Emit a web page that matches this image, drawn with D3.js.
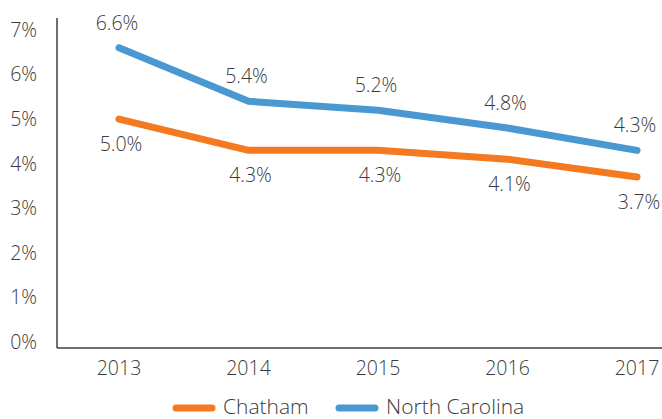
<!DOCTYPE html>
<html>
<head>
<meta charset="utf-8">
<script src="https://cdn.jsdelivr.net/npm/d3@7"></script>
<style>
  html, body { margin: 0; padding: 0; background: #fff; }
  svg text { font-family: "Open Sans", "DejaVu Sans", sans-serif; font-weight: 300; fill: #3a3a3a; }
</style>
</head>
<body>
<svg id="chart" width="662" height="419"></svg>
<script>
// Unemployment rate, 2013–2017
const years = ["2013", "2014", "2015", "2016", "2017"];
const chatham = [5.0, 4.3, 4.3, 4.1, 3.7];
const northCarolina = [6.6, 5.4, 5.2, 4.8, 4.3];
const yTicks = [0, 1, 2, 3, 4, 5, 6, 7];
const seriesNames = ["Chatham", "North Carolina"];
const seriesColors = ["#F47A21", "#4A98D2"];

const svg = d3.select("#chart");
const axisColor = "#404040";
const fontSize = 19.5;
const legendFontSize = 21;

const x = d3.scalePoint().domain(years).range([119, 637]);
const y = d3.scaleLinear().domain([0, 7]).range([342, 30]);

// Axes
const axisLeftX = 57, axisBottomY = 348;
svg.append("line")
  .attr("x1", axisLeftX).attr("x2", axisLeftX)
  .attr("y1", 18).attr("y2", axisBottomY)
  .attr("stroke", axisColor).attr("stroke-width", 1.5);
svg.append("line")
  .attr("x1", axisLeftX).attr("x2", 662)
  .attr("y1", axisBottomY).attr("y2", axisBottomY)
  .attr("stroke", axisColor).attr("stroke-width", 1.5);

svg.append("g").selectAll("text").data(yTicks).join("text")
  .attr("x", 37).attr("y", d => y(d))
  .attr("dy", "0.35em")
  .attr("text-anchor", "end")
  .attr("font-size", fontSize)
  .text(d => d + "%");

svg.append("g").selectAll("text").data(years).join("text")
  .attr("x", d => x(d)).attr("y", 368)
  .attr("dy", "0.35em")
  .attr("text-anchor", "middle")
  .attr("font-size", fontSize)
  .text(d => d);

// Lines
const line = d3.line().x((d, i) => x(years[i])).y(d => y(d));
const series = [chatham, northCarolina];
series.forEach((vals, s) => {
  svg.append("path")
    .datum(vals)
    .attr("d", line)
    .attr("fill", "none")
    .attr("stroke", seriesColors[s])
    .attr("stroke-width", 7)
    .attr("stroke-linecap", "round")
    .attr("stroke-linejoin", "round");
});

// Value labels: North Carolina above, Chatham below
const fmt = d => d.toFixed(1) + "%";
svg.append("g").selectAll("text").data(northCarolina).join("text")
  .attr("x", (d, i) => x(years[i]) - 2)
  .attr("y", d => y(d) - 25)
  .attr("dy", "0.35em")
  .attr("text-anchor", "middle")
  .attr("font-size", fontSize)
  .text(fmt);
svg.append("g").selectAll("text").data(chatham).join("text")
  .attr("x", (d, i) => x(years[i]) + 2)
  .attr("y", d => y(d) + 25)
  .attr("dy", "0.35em")
  .attr("text-anchor", "middle")
  .attr("font-size", fontSize)
  .text(fmt);

// Legend
const legendX = [173, 336];
const legend = svg.append("g");
seriesNames.forEach((name, i) => {
  legend.append("line")
    .attr("x1", legendX[i] + 3).attr("x2", legendX[i] + 39)
    .attr("y1", 408).attr("y2", 408)
    .attr("stroke", seriesColors[i])
    .attr("stroke-width", 7)
    .attr("stroke-linecap", "round");
  legend.append("text")
    .attr("x", legendX[i] + 50).attr("y", 414)
    .attr("font-size", legendFontSize)
    .text(name);
});
</script>
</body>
</html>
